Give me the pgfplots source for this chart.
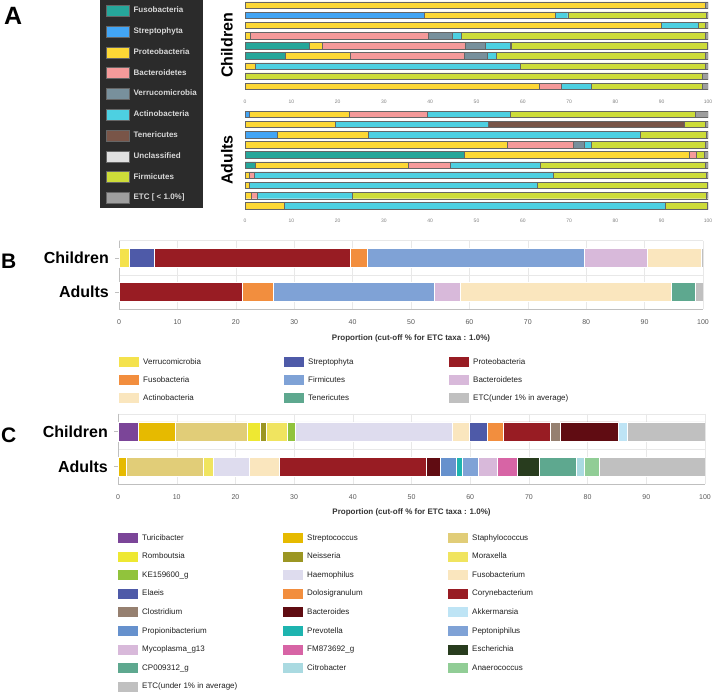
\documentclass[border=0pt]{standalone}
\usepackage{fontspec}
\setmainfont{Liberation Sans}
\usepackage{pgfplots}
\usepackage{pgfplotstable}
\pgfplotsset{compat=1.18}

% panel A (phyla, one bar per sample)
\definecolor{aFus}{RGB}{38,166,154}
\definecolor{aStr}{RGB}{66,165,245}
\definecolor{aPro}{RGB}{253,216,53}
\definecolor{aBac}{RGB}{245,154,154}
\definecolor{aVer}{RGB}{120,144,156}
\definecolor{aAct}{RGB}{77,208,225}
\definecolor{aTen}{RGB}{121,85,72}
\definecolor{aUnc}{RGB}{224,224,224}
\definecolor{aFir}{RGB}{205,220,57}
\definecolor{aETC}{RGB}{158,158,158}
\definecolor{aBox}{RGB}{43,43,43}

% panel B (phyla, mean)
\definecolor{bVer}{RGB}{244,226,77}
\definecolor{bStr}{RGB}{78,90,168}
\definecolor{bPro}{RGB}{152,28,35}
\definecolor{bFus}{RGB}{242,142,62}
\definecolor{bFir}{RGB}{127,162,214}
\definecolor{bBac}{RGB}{216,185,218}
\definecolor{bAct}{RGB}{250,230,190}
\definecolor{bTen}{RGB}{94,168,143}
\definecolor{bETC}{RGB}{192,192,192}

% panel C (genera, mean)
\definecolor{cTur}{RGB}{123,69,152}
\definecolor{cStc}{RGB}{230,186,0}
\definecolor{cSta}{RGB}{225,205,120}
\definecolor{cRom}{RGB}{238,232,50}
\definecolor{cNei}{RGB}{155,150,35}
\definecolor{cMor}{RGB}{240,228,95}
\definecolor{cKE}{RGB}{145,195,60}
\definecolor{cHae}{RGB}{222,220,238}
\definecolor{cFub}{RGB}{250,230,190}
\definecolor{cEla}{RGB}{78,90,168}
\definecolor{cDol}{RGB}{242,142,62}
\definecolor{cCor}{RGB}{152,28,35}
\definecolor{cClo}{RGB}{150,128,112}
\definecolor{cBac}{RGB}{96,12,18}
\definecolor{cAkk}{RGB}{190,228,245}
\definecolor{cPro}{RGB}{102,145,205}
\definecolor{cPrv}{RGB}{30,180,175}
\definecolor{cPep}{RGB}{127,162,214}
\definecolor{cMyc}{RGB}{216,185,218}
\definecolor{cFM}{RGB}{215,100,165}
\definecolor{cEsc}{RGB}{40,60,30}
\definecolor{cCP}{RGB}{94,168,143}
\definecolor{cCit}{RGB}{170,218,225}
\definecolor{cAna}{RGB}{145,205,150}
\definecolor{cETC}{RGB}{192,192,192}

\pgfplotsset{
  legA/.style={legend image code/.code={\draw[##1] (0pt,-5.5pt) rectangle (23pt,5.5pt);}},
  legBC/.style={legend image code/.code={\fill[##1,draw=none] (0pt,-5pt) rectangle (20pt,5pt);}},
  panelA/.style={
    scale only axis, width=463pt,
    xbar stacked, bar width=6.5pt,
    xmin=0, xmax=100, y dir=reverse,
    axis y line=none, axis x line*=bottom,
    x axis line style={draw=none},
    xtick={0,10,...,100}, xtick style={draw=none},
    xticklabel style={font=\fontsize{5}{5}\selectfont, text=gray, yshift=-5pt},
    /pgf/number format/assume math mode=true,
    every axis plot/.append style={legA, draw=black!60, line width=0.4pt},
  },
  panelBC/.style={
    scale only axis,
    xbar stacked, bar width=19pt,
    xmin=0, xmax=100, ymin=-0.5, ymax=1.5, y dir=reverse,
    axis x line*=bottom, axis y line*=left,
    axis line style={gray!50},
    xtick={0,10,...,100}, xtick style={draw=none},
    xmajorgrids, major grid style={gray!18},
    ytick={0,1}, yticklabels={Children,Adults},
    ytick style={gray!50}, tick align=outside, major tick length=4pt,
    minor ytick={-0.5,0.5}, yminorgrids, minor grid style={gray!18}, minor tick length=0pt,
    yticklabel style={font=\bfseries\fontsize{16}{16}\selectfont, inner sep=0pt, xshift=-6pt},
    xticklabel style={font=\fontsize{7}{7}\selectfont, text=gray!70!black, yshift=-2.5pt},
    /pgf/number format/assume math mode=true,
    every axis plot/.append style={legBC, draw=white, line width=0.6pt},
    legend columns=3, legend cell align=left,
    xlabel={Proportion (cut-off \% for ETC taxa : 1.0\%)},
    xlabel style={font=\bfseries\fontsize{8}{9}\selectfont, text=black!80, anchor=center},
  },
}

\pgfplotstableread{
r Fus Str Pro Bac Ver Act Ten Unc Fir ETC
1 0 0 99.3 0 0 0 0 0 0 0.7
2 0 38.7 28.2 0 0 2.8 0 0 30.0 0.3
3 0 0 89.9 0 0 7.9 0 0 1.6 0.6
4 0 0 1.1 38.4 5.2 1.9 0 0 52.8 0.6
5 13.9 0 2.8 30.9 4.3 5.4 0.2 0 42.4 0.1
6 8.6 0 14.2 24.5 5.1 1.8 0 0 45.2 0.6
7 0 0 2.2 0 0 57.2 0 0 40.0 0.6
8 0 0 0 0 0 0 0 0 98.7 1.3
9 0 0 63.6 4.7 0 6.5 0 0 23.9 1.3
}\Atop

\pgfplotstableread{
r Fus Str Pro Bac Ver Act Ten Unc Fir ETC
1 0 0.9 21.7 16.7 0 17.9 0 0 40.1 2.7
2 0 0 19.5 0 0 33.1 42.3 0 4.6 0.5
3 0 7.0 19.7 0 0 58.7 0 0 14.2 0.4
4 0 0 56.7 14.1 2.4 1.6 0 0 24.5 0.7
5 47.4 0 48.6 1.5 0 0 0 0 1.6 0.9
6 2.3 0 32.9 9.2 0 19.4 0 0 35.5 0.7
7 0 0 1.0 0.9 0 64.6 0 0 33.1 0.4
8 0 0 0.9 0 0 62.2 0 0 36.8 0.1
9 0 0 1.4 1.2 0 20.5 0 0 76.5 0.4
10 0 0 8.4 0 0 82.4 0 0 9.1 0.1
}\Abot

% 0 = Children, 1 = Adults
\pgfplotstableread{
g Ver Str Pro Fus Fir Bac Act Ten ETC
0 1.7 4.4 33.5 2.9 37.1 10.9 9.2 0 0.3
1 0 0 21.1 5.4 27.5 4.4 36.1 4.2 1.3
}\Bphy

\pgfplotstableread{
g Tur Stc Sta Rom Nei Mor KE Hae Fub Ela Dol Cor Clo Bac Akk Pro Prv Pep Myc FM Esc CP Cit Ana ETC
0 3.4 6.3 12.3 2.2 1.1 3.6 1.3 26.8 2.8 3.1 2.7 8.1 1.6 10.0 1.5 0 0 0 0 0 0 0 0 0 13.2
1 0 1.4 13.1 0 0 1.8 0 6.1 5.0 0 0 25.1 0 2.4 0 2.7 1.0 2.8 3.2 3.4 3.8 6.3 1.4 2.5 18.0
}\Cgen

\newcommand{\lb}[1]{\makebox[137pt][l]{#1}}

\begin{document}
\begin{tikzpicture}
\path[use as bounding box] (0,0) rectangle (714pt,-693pt);

% ---------- A, children
\begin{axis}[panelA, at={(245pt,0pt)}, anchor=north west,
  height=91.4pt, ymin=0.5, ymax=9.5,
  legend cell align=left,
  legend style={at={(axis description cs:-0.3132,1)}, anchor=north west,
    fill=aBox, draw=none, inner xsep=6pt, inner ysep=4.7pt,
    row sep=9.4pt, column sep=4pt,
    font=\bfseries\fontsize{8}{9}\selectfont, text=white!85!black,
    nodes={inner sep=0pt}},
]
\addplot[fill=aFus] table[x=Fus,y=r]{\Atop}; \addlegendentry{Fusobacteria}
\addplot[fill=aStr] table[x=Str,y=r]{\Atop}; \addlegendentry{Streptophyta}
\addplot[fill=aPro] table[x=Pro,y=r]{\Atop}; \addlegendentry{Proteobacteria}
\addplot[fill=aBac] table[x=Bac,y=r]{\Atop}; \addlegendentry{Bacteroidetes}
\addplot[fill=aVer] table[x=Ver,y=r]{\Atop}; \addlegendentry{Verrucomicrobia}
\addplot[fill=aAct] table[x=Act,y=r]{\Atop}; \addlegendentry{Actinobacteria}
\addplot[fill=aTen] table[x=Ten,y=r]{\Atop}; \addlegendentry{Tenericutes}
\addplot[fill=aUnc] table[x=Unc,y=r]{\Atop}; \addlegendentry{Unclassified}
\addplot[fill=aFir] table[x=Fir,y=r]{\Atop}; \addlegendentry{Firmicutes}
\addplot[fill=aETC] table[x=ETC,y=r]{\Atop}; \addlegendentry{ETC [ < 1.0\%]}
\end{axis}

% ---------- A, adults
\begin{axis}[panelA, at={(245pt,-109.2pt)}, anchor=north west,
  height=101.5pt, ymin=0.5, ymax=10.5]
\addplot[fill=aFus] table[x=Fus,y=r]{\Abot};
\addplot[fill=aStr] table[x=Str,y=r]{\Abot};
\addplot[fill=aPro] table[x=Pro,y=r]{\Abot};
\addplot[fill=aBac] table[x=Bac,y=r]{\Abot};
\addplot[fill=aVer] table[x=Ver,y=r]{\Abot};
\addplot[fill=aAct] table[x=Act,y=r]{\Abot};
\addplot[fill=aTen] table[x=Ten,y=r]{\Abot};
\addplot[fill=aUnc] table[x=Unc,y=r]{\Abot};
\addplot[fill=aFir] table[x=Fir,y=r]{\Abot};
\addplot[fill=aETC] table[x=ETC,y=r]{\Abot};
\end{axis}

% ---------- B
\begin{axis}[panelBC, at={(119pt,-240.6pt)}, anchor=north west,
  width=584pt, height=68.8pt,
  xlabel style={at={(axis description cs:0.5,-0.416)}},
  legend style={at={(axis description cs:0,-0.692)}, anchor=north west,
    draw=none, fill=none, inner sep=0pt, row sep=8pt, column sep=4pt,
    font=\fontsize{8}{9}\selectfont, text=gray!25!black, nodes={inner sep=0pt}},
]
\addplot[fill=bVer] table[x=Ver,y=g]{\Bphy}; \addlegendentry{\lb{Verrucomicrobia}}
\addplot[fill=bStr] table[x=Str,y=g]{\Bphy}; \addlegendentry{\lb{Streptophyta}}
\addplot[fill=bPro] table[x=Pro,y=g]{\Bphy}; \addlegendentry{\lb{Proteobacteria}}
\addplot[fill=bFus] table[x=Fus,y=g]{\Bphy}; \addlegendentry{\lb{Fusobacteria}}
\addplot[fill=bFir] table[x=Fir,y=g]{\Bphy}; \addlegendentry{\lb{Firmicutes}}
\addplot[fill=bBac] table[x=Bac,y=g]{\Bphy}; \addlegendentry{\lb{Bacteroidetes}}
\addplot[fill=bAct] table[x=Act,y=g]{\Bphy}; \addlegendentry{\lb{Actinobacteria}}
\addplot[fill=bTen] table[x=Ten,y=g]{\Bphy}; \addlegendentry{\lb{Tenericutes}}
\addplot[fill=bETC] table[x=ETC,y=g]{\Bphy}; \addlegendentry{\lb{ETC(under 1\% in average)}}
\end{axis}

% ---------- C
\begin{axis}[panelBC, at={(118pt,-413.7pt)}, anchor=north west,
  width=587pt, height=70.4pt,
  xlabel style={at={(axis description cs:0.5,-0.396)}},
  legend style={at={(axis description cs:0,-0.692)}, anchor=north west,
    draw=none, fill=none, inner sep=0pt, row sep=8.6pt, column sep=4pt,
    font=\fontsize{8}{9}\selectfont, text=gray!25!black, nodes={inner sep=0pt}},
]
\addplot[fill=cTur] table[x=Tur,y=g]{\Cgen}; \addlegendentry{\lb{Turicibacter}}
\addplot[fill=cStc] table[x=Stc,y=g]{\Cgen}; \addlegendentry{\lb{Streptococcus}}
\addplot[fill=cSta] table[x=Sta,y=g]{\Cgen}; \addlegendentry{\lb{Staphylococcus}}
\addplot[fill=cRom] table[x=Rom,y=g]{\Cgen}; \addlegendentry{\lb{Romboutsia}}
\addplot[fill=cNei] table[x=Nei,y=g]{\Cgen}; \addlegendentry{\lb{Neisseria}}
\addplot[fill=cMor] table[x=Mor,y=g]{\Cgen}; \addlegendentry{\lb{Moraxella}}
\addplot[fill=cKE] table[x=KE,y=g]{\Cgen}; \addlegendentry{\lb{KE159600\_g}}
\addplot[fill=cHae] table[x=Hae,y=g]{\Cgen}; \addlegendentry{\lb{Haemophilus}}
\addplot[fill=cFub] table[x=Fub,y=g]{\Cgen}; \addlegendentry{\lb{Fusobacterium}}
\addplot[fill=cEla] table[x=Ela,y=g]{\Cgen}; \addlegendentry{\lb{Elaeis}}
\addplot[fill=cDol] table[x=Dol,y=g]{\Cgen}; \addlegendentry{\lb{Dolosigranulum}}
\addplot[fill=cCor] table[x=Cor,y=g]{\Cgen}; \addlegendentry{\lb{Corynebacterium}}
\addplot[fill=cClo] table[x=Clo,y=g]{\Cgen}; \addlegendentry{\lb{Clostridium}}
\addplot[fill=cBac] table[x=Bac,y=g]{\Cgen}; \addlegendentry{\lb{Bacteroides}}
\addplot[fill=cAkk] table[x=Akk,y=g]{\Cgen}; \addlegendentry{\lb{Akkermansia}}
\addplot[fill=cPro] table[x=Pro,y=g]{\Cgen}; \addlegendentry{\lb{Propionibacterium}}
\addplot[fill=cPrv] table[x=Prv,y=g]{\Cgen}; \addlegendentry{\lb{Prevotella}}
\addplot[fill=cPep] table[x=Pep,y=g]{\Cgen}; \addlegendentry{\lb{Peptoniphilus}}
\addplot[fill=cMyc] table[x=Myc,y=g]{\Cgen}; \addlegendentry{\lb{Mycoplasma\_g13}}
\addplot[fill=cFM] table[x=FM,y=g]{\Cgen}; \addlegendentry{\lb{FM873692\_g}}
\addplot[fill=cEsc] table[x=Esc,y=g]{\Cgen}; \addlegendentry{\lb{Escherichia}}
\addplot[fill=cCP] table[x=CP,y=g]{\Cgen}; \addlegendentry{\lb{CP009312\_g}}
\addplot[fill=cCit] table[x=Cit,y=g]{\Cgen}; \addlegendentry{\lb{Citrobacter}}
\addplot[fill=cAna] table[x=Ana,y=g]{\Cgen}; \addlegendentry{\lb{Anaerococcus}}
\addplot[fill=cETC] table[x=ETC,y=g]{\Cgen}; \addlegendentry{\lb{ETC(under 1\% in average)}}
\end{axis}

% panel letters and group labels
\node[anchor=base west, inner sep=0pt, font=\bfseries\fontsize{25}{25}\selectfont] at (4pt,-25pt) {A};
\node[anchor=base west, inner sep=0pt, font=\bfseries\fontsize{21}{21}\selectfont] at (1pt,-268pt) {B};
\node[anchor=base west, inner sep=0pt, font=\bfseries\fontsize{21}{21}\selectfont] at (1pt,-442pt) {C};
\node[rotate=90, inner sep=0pt, font=\bfseries\fontsize{16}{16}\selectfont] at (227pt,-45.5pt) {Children};
\node[rotate=90, inner sep=0pt, font=\bfseries\fontsize{16}{16}\selectfont] at (227pt,-160pt) {Adults};
\end{tikzpicture}
\end{document}
